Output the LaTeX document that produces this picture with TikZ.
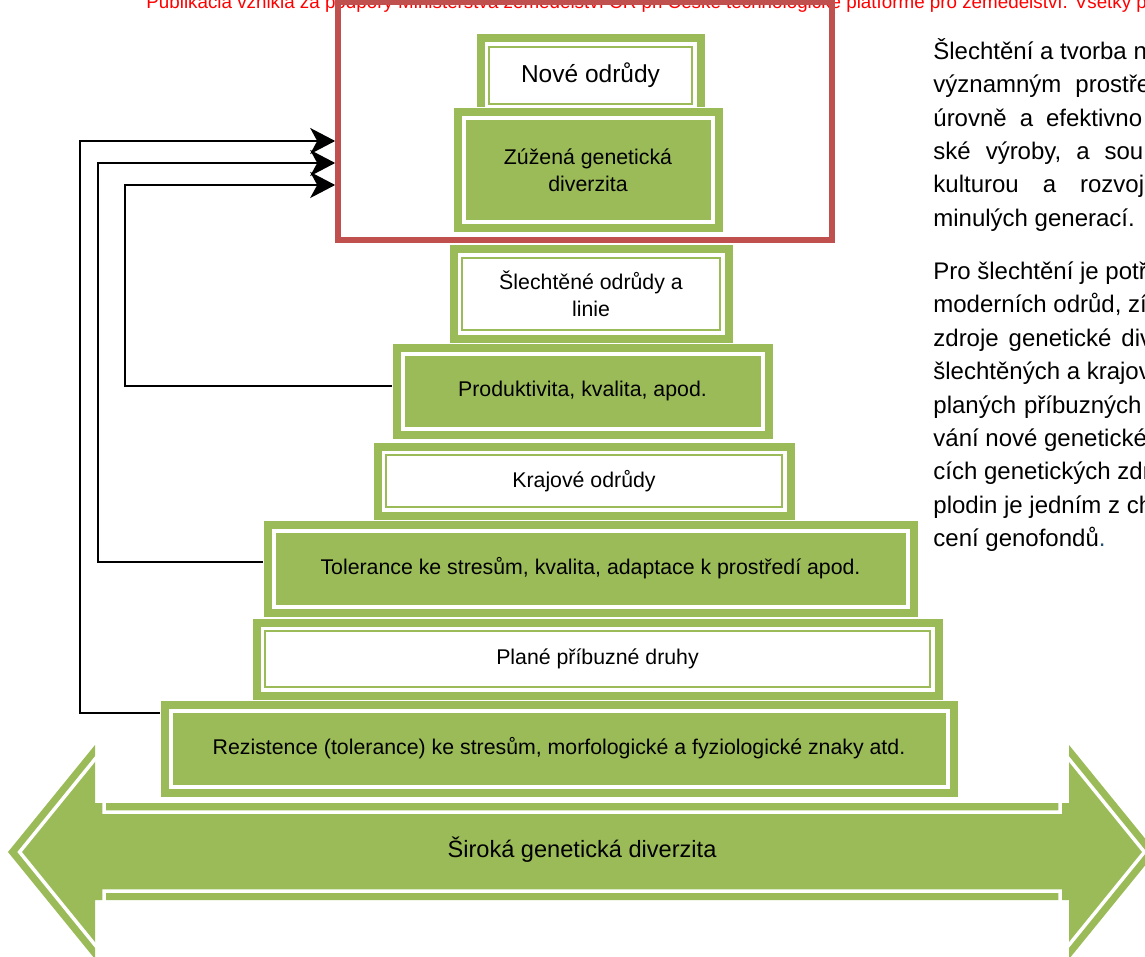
\documentclass[tikz,border=0pt]{standalone}
\usepackage{fontspec}
\setmainfont{Liberation Sans}
\usetikzlibrary{arrows.meta}
\definecolor{leaf}{HTML}{9BBB59}
\definecolor{focusred}{HTML}{C0504D}
\definecolor{dotblue}{HTML}{1F4E79}
\newcommand\tierfont{\fontsize{10.65}{13.5}\selectfont}
\newcommand\topfont{\fontsize{12.25}{14}\selectfont}
\newcommand\widefont{\fontsize{11.8}{14}\selectfont}
\newcommand\notefont{\fontsize{12}{16}\selectfont}
\newcommand\headfont{\fontsize{9.4}{11}\selectfont}
\tikzset{
  tierbase/.style={fill=leaf, draw=white, line width=0.5pt, inner sep=0pt, align=center, font=\tierfont},
  tier green/.style={tierbase, path picture={
      \draw[white, line width=2pt]
        ([shift={(5.25pt,-5.25pt)}]path picture bounding box.north west) rectangle
        ([shift={(-5.25pt,5.25pt)}]path picture bounding box.south east);}},
  tier white/.style={tierbase, path picture={
      \fill[white]
        ([shift={(4.25pt,-4.25pt)}]path picture bounding box.north west) rectangle
        ([shift={(-4.25pt,4.25pt)}]path picture bounding box.south east);
      \draw[leaf, line width=0.85pt]
        ([shift={(6.6pt,-6.6pt)}]path picture bounding box.north west) rectangle
        ([shift={(-6.6pt,6.6pt)}]path picture bounding box.south east);}},
  focus/.style={draw=focusred, line width=2.8pt, minimum width=247pt, minimum height=119pt},
  fb/.style={-{Stealth[length=12.5pt,width=13pt,inset=3.5pt]}, line width=1pt},
  noteline/.style={anchor=base west, inner sep=0pt, font=\notefont},
}
\begin{document}
\begin{tikzpicture}[x=0.5pt,y=-0.5pt]
  \useasboundingbox (0,0) rectangle (1145,957);
  % header line of the page
  \node[anchor=base west, inner sep=0pt, font=\headfont, text=red] (head) at (146,8.5)
    {Publikácia vznikla za podpory Ministerstva zemědělství ČR při České technologické platformě pro zemědělství. Všetky p};
  % pyramid
  \node[tier white, minimum width=114.5pt, minimum height=41.5pt, font=\topfont] (nove) at (590.5,75.5) {Nové odrůdy};
  \node[tier green, minimum width=135pt, minimum height=62.5pt] (zuzena) at (588,170.5) {Zúžená genetická\\diverzita};
  \node[tier white, minimum width=142pt, minimum height=49pt] (slecht) at (591,294) {Šlechtěné odrůdy a\\linie};
  \node[tier green, minimum width=190.5pt, minimum height=48pt] (produkt) at (582.5,391) {Produktivita, kvalita, apod.};
  \node[tier white, minimum width=211pt, minimum height=39pt] (kraj) at (584,481) {Krajové odrůdy};
  \node[tier green, minimum width=327.5pt, minimum height=48.5pt] (toler) at (590.5,568.5) {Tolerance ke stresům, kvalita, adaptace k prostředí apod.};
  \node[tier white, minimum width=345.5pt, minimum height=41pt] (plane) at (597.5,659) {Plané příbuzné druhy};
  \node[tier green, minimum width=399pt, minimum height=48.5pt] (rez) at (559,748.5) {Rezistence (tolerance) ke stresům, morfologické a fyziologické znaky atd.};
  \node[focus] (focus) at (585,121) {};
  % wide arrow
  \fill[leaf] (8,852) -- (95,745) -- (95,803) -- (1069,803) -- (1069,745) -- (1156,852)
    -- (1069,959) -- (1069,900) -- (95,900) -- (95,959) -- cycle;
  \draw[white, line width=1.75pt] (19.6,852) -- (104,748) -- (104,812) -- (1060,812) -- (1060,748)
    -- (1144.4,852) -- (1060,956) -- (1060,891) -- (104,891) -- (104,956) -- cycle;
  \node[font=\widefont] (wide) at (582,850) {Široká genetická diverzita};
  \begin{scope}[fb]
    \draw ([yshift=17.75pt]rez.west) -- ++(-80,0) |- ([yshift=-10pt]focus.west);
    \draw ([yshift=3.25pt]toler.west) -- ++(-165,0) |- ([yshift=-21pt]focus.west);
    \draw ([yshift=2.5pt]produkt.west) -- ++(-267,0) |- ([yshift=-32pt]focus.west);
  \end{scope}
  % text beside the picture
  \node[noteline] (t1) at (933,59.3) {Šlechtění a tvorba n};
  \node[noteline] (t2) at (933,92.7) {významným\hspace{7pt}prostře};
  \node[noteline] (t3) at (933,126.1) {úrovně\hspace{6.5pt}a\hspace{6.5pt}efektivno};
  \node[noteline] (t4) at (933,159.5) {ské\hspace{7.5pt}výroby,\hspace{7.5pt}a\hspace{7.5pt}sou};
  \node[noteline] (t5) at (933,192.9) {kulturou\hspace{12pt}a\hspace{12pt}rozvoj};
  \node[noteline] (t6) at (933,226.3) {minulých generací.};
  \node[noteline] (t7) at (933,279.5) {Pro šlechtění je potř};
  \node[noteline] (t8) at (933,312.9) {moderních odrůd, zí};
  \node[noteline] (t9) at (933,346.3) {zdroje\hspace{5pt}genetické\hspace{5pt}div};
  \node[noteline] (t10) at (933,379.7) {šlechtěných a krajov};
  \node[noteline] (t11) at (933,413.1) {planých\hspace{4pt}příbuzných};
  \node[noteline] (t12) at (933,446.5) {vání nové genetické};
  \node[noteline] (t13) at (933,479.9) {cích genetických zdr};
  \node[noteline] (t14) at (933,513.3) {plodin je jedním z ch};
  \node[noteline] (t15) at (933,546.7) {cení genofondů\textcolor{dotblue}{.}};
\end{tikzpicture}
\end{document}
